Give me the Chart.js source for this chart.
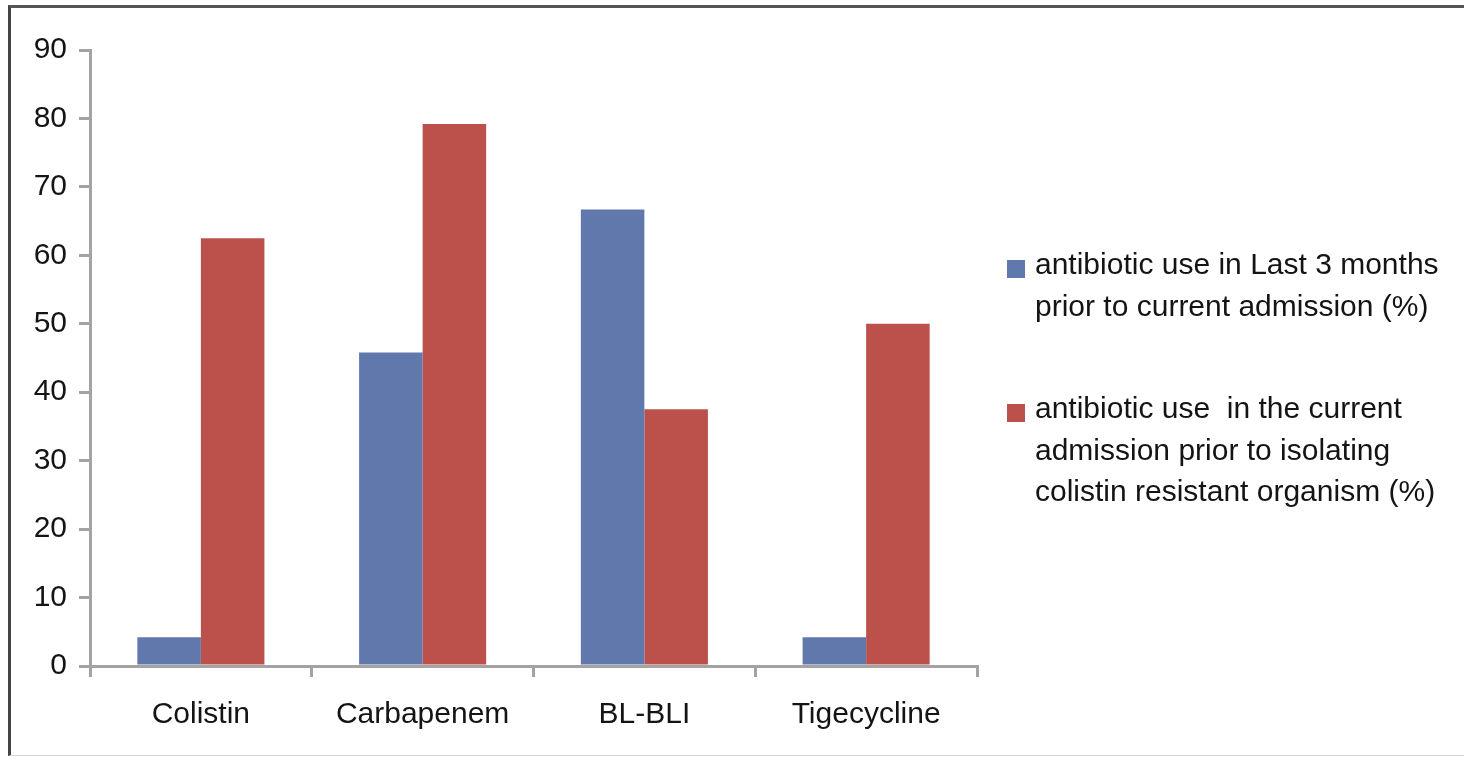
<!DOCTYPE html>
<html>
<head>
<meta charset="utf-8">
<script src="https://cdn.jsdelivr.net/npm/chart.js@4"></script>
<style>
  html, body { margin: 0; padding: 0; background: #fff; }
  body { width: 1464px; height: 757px; position: relative; overflow: hidden; font-family: "Liberation Sans", Arial, sans-serif; }
  #frame { position: absolute; left: 8px; top: 5px; width: 1453px; height: 747px; border-top: 3px solid #555; border-left: 3px solid #444; border-bottom: 1px solid #d8d8d8; border-right: 1px solid #e2e2e2; }
  #wrap { position: absolute; left: 0; top: 0; width: 1464px; height: 757px; }
  #legend { position: absolute; left: 1007px; top: 243px; color: #141414; font-size: 30px; line-height: 41.5px; }
  .item { position: relative; padding-left: 28px; margin-bottom: 61px; }
  .box { position: absolute; left: 0; top: 17px; width: 18px; height: 18px; }
</style>
</head>
<body>
<div id="frame"></div>
<div id="wrap"><canvas id="myChart" width="1464" height="757"></canvas></div>
<div id="legend"></div>
<script>
const categories = ['Colistin', 'Carbapenem', 'BL-BLI', 'Tigecycline'];
const lastThreeMonths = [4.2, 45.8, 66.7, 4.2];
const currentAdmission = [62.5, 79.2, 37.5, 50];
const seriesNames = [
    ['antibiotic use in Last 3 months', 'prior to current admission (%)'],
    ['antibiotic use \u00a0in the current', 'admission prior to isolating', 'colistin resistant organism (%)']
];
const seriesColors = ['#6178ad', '#bc504b'];

document.addEventListener('DOMContentLoaded', function () {
    const ctx = document.getElementById('myChart').getContext('2d');
    const axisColor = '#a3a3a3';
    const tickFont = { family: '"Liberation Sans", Arial, sans-serif', size: 30 };

    const myChart = new Chart(ctx, {
        type: 'bar',
        data: {
            labels: categories,
            datasets: [{
                label: seriesNames[0].join(' '),
                data: lastThreeMonths,
                backgroundColor: seriesColors[0]
            }, {
                label: seriesNames[1].join(' '),
                data: currentAdmission,
                backgroundColor: seriesColors[1]
            }]
        },
        options: {
            responsive: false,
            animation: false,
            layout: { padding: { left: 0, top: 50, right: 1464 - 977, bottom: 0 } },
            plugins: { legend: { display: false }, tooltip: { enabled: false } },
            datasets: { bar: { categoryPercentage: 0.573, barPercentage: 1.0 } },
            scales: {
                x: {
                    afterFit: function (s) { s.height = 91; },
                    grid: { offset: true, drawOnChartArea: false, tickLength: 11, color: axisColor, lineWidth: 3 },
                    border: { color: axisColor, width: 3 },
                    ticks: { color: '#141414', font: tickFont, padding: 20 }
                },
                y: {
                    min: 0,
                    max: 90,
                    afterFit: function (s) { s.width = 90; },
                    grid: { drawOnChartArea: false, tickLength: 11, color: axisColor, lineWidth: 3 },
                    border: { color: axisColor, width: 3 },
                    ticks: { stepSize: 10, color: '#141414', font: tickFont, padding: 12 }
                }
            }
        }
    });

    // легенда з переносом рядків
    const legend = document.getElementById('legend');
    myChart.data.datasets.forEach(function (ds, i) {
        const item = document.createElement('div');
        item.className = 'item';
        const box = document.createElement('span');
        box.className = 'box';
        box.style.background = ds.backgroundColor;
        item.appendChild(box);
        seriesNames[i].forEach(function (line) {
            const row = document.createElement('div');
            row.textContent = line;
            item.appendChild(row);
        });
        legend.appendChild(item);
    });
});
</script>
</body>
</html>
